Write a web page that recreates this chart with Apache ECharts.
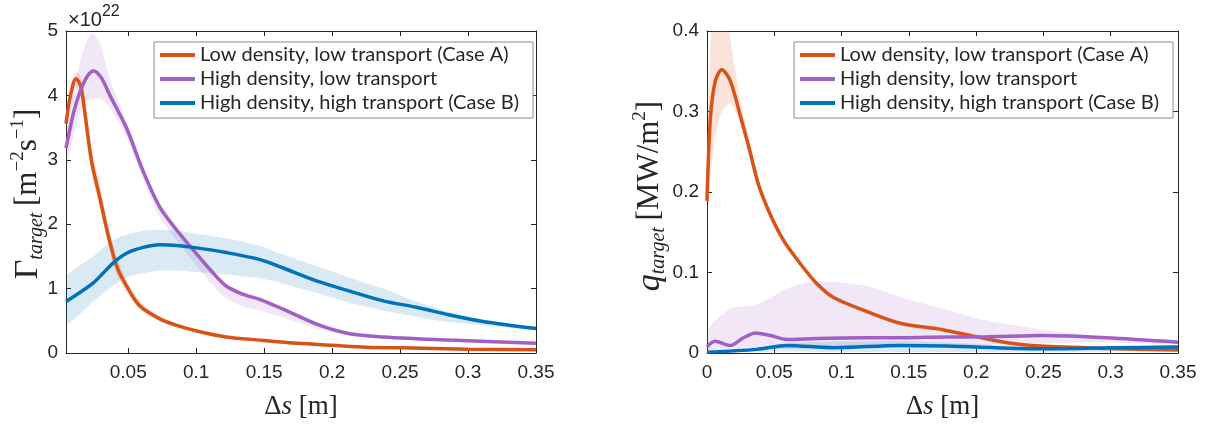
<!DOCTYPE html>
<html><head><meta charset="utf-8">
<script src="https://cdn.jsdelivr.net/npm/echarts@6/dist/echarts.min.js"></script>
<style>html,body{margin:0;padding:0;background:#fff}#c{width:1206px;height:425px}</style>
</head><body><div id="c"></div>
<script>
// ---------- names ----------
const seriesNames = ['Low density, low transport (Case A)', 'High density, low transport', 'High density, high transport (Case B)'];
const colors = ['#D95319', '#A260C4', '#0072BD'];
const bandColors = ['rgba(217,83,25,0.16)', 'rgba(162,96,196,0.15)', 'rgba(0,114,189,0.15)'];

// ---------- left panel: particle flux (x1e22) ----------
const gamA_x = [0.0042, 0.0075, 0.0115, 0.015, 0.018, 0.023, 0.029, 0.035, 0.0415, 0.0488, 0.0586, 0.0733, 0.0856, 0.1027, 0.122, 0.147, 0.175, 0.2, 0.225, 0.25, 0.3, 0.35];
const gamA_y = [3.56, 4.0, 4.26, 4.15, 3.74, 2.98, 2.42, 1.85, 1.35, 1.04, 0.73, 0.53, 0.43, 0.33, 0.25, 0.2, 0.15, 0.12, 0.09, 0.08, 0.06, 0.05];
const gamA_hi = [3.66, 4.12, 4.36, 4.3, 3.95, 3.2, 2.62, 2.02, 1.5, 1.14, 0.8, 0.57, 0.46, 0.35, 0.27, 0.21, 0.16, 0.13, 0.1, 0.085, 0.065, 0.055];
const gamA_lo = [3.46, 3.9, 4.15, 4.0, 3.55, 2.8, 2.25, 1.7, 1.22, 0.95, 0.67, 0.49, 0.4, 0.31, 0.23, 0.19, 0.14, 0.11, 0.08, 0.075, 0.055, 0.045];

const gamH_x = [0.0042, 0.01, 0.015, 0.02, 0.0243, 0.03, 0.0365, 0.0488, 0.061, 0.0733, 0.0856, 0.0978, 0.11, 0.122, 0.1346, 0.147, 0.164, 0.1885, 0.213, 0.2375, 0.2865, 0.35];
const gamH_y = [3.18, 3.75, 4.08, 4.3, 4.38, 4.28, 4.0, 3.49, 2.82, 2.26, 1.91, 1.6, 1.30, 1.04, 0.91, 0.83, 0.68, 0.45, 0.30, 0.25, 0.20, 0.15];
const gamH_hi = [3.4, 4.1, 4.55, 4.88, 4.96, 4.75, 4.25, 3.6, 2.9, 2.32, 1.96, 1.65, 1.35, 1.08, 0.95, 0.87, 0.71, 0.48, 0.32, 0.27, 0.21, 0.16];
const gamH_lo = [2.85, 3.4, 3.75, 3.92, 3.95, 3.95, 3.8, 3.35, 2.7, 2.1, 1.75, 1.42, 1.1, 0.85, 0.72, 0.66, 0.55, 0.38, 0.27, 0.23, 0.18, 0.13];

const gamB_x = [0.0042, 0.0243, 0.039, 0.0488, 0.061, 0.0733, 0.0856, 0.0978, 0.122, 0.147, 0.164, 0.1885, 0.213, 0.2375, 0.262, 0.2865, 0.311, 0.35];
const gamB_y = [0.80, 1.09, 1.40, 1.55, 1.64, 1.68, 1.67, 1.64, 1.56, 1.45, 1.32, 1.12, 0.96, 0.81, 0.71, 0.59, 0.49, 0.38];
const gamB_hi = [1.17, 1.5, 1.75, 1.84, 1.9, 1.91, 1.9, 1.86, 1.78, 1.66, 1.53, 1.35, 1.17, 1.0, 0.8, 0.64, 0.52, 0.39];
const gamB_lo = [0.46, 0.8, 1.05, 1.18, 1.24, 1.28, 1.28, 1.26, 1.22, 1.16, 1.08, 0.93, 0.78, 0.66, 0.56, 0.48, 0.43, 0.36];

// ---------- right panel: heat flux (MW/m^2) ----------
const qA_x = [0, 0.0025, 0.0062, 0.011, 0.0173, 0.0247, 0.032, 0.0383, 0.047, 0.057, 0.0693, 0.0817, 0.094, 0.119, 0.1436, 0.175, 0.198, 0.223, 0.248, 0.297, 0.35];
const qA_y = [0.189, 0.291, 0.338, 0.352, 0.338, 0.295, 0.25, 0.209, 0.172, 0.1395, 0.111, 0.086, 0.069, 0.0515, 0.037, 0.029, 0.021, 0.0127, 0.0086, 0.0057, 0.0037];
const qA_hi = [0.23, 0.38, 0.44, 0.46, 0.39, 0.315, 0.262, 0.217, 0.178, 0.144, 0.114, 0.089, 0.071, 0.053, 0.038, 0.03, 0.022, 0.0135, 0.009, 0.006, 0.004];
const qA_lo = [0.155, 0.22, 0.27, 0.3, 0.31, 0.285, 0.24, 0.202, 0.167, 0.135, 0.108, 0.083, 0.067, 0.05, 0.036, 0.028, 0.02, 0.012, 0.008, 0.0054, 0.0034];

const qH_x = [0, 0.006, 0.0173, 0.027, 0.036, 0.047, 0.0594, 0.0817, 0.119, 0.15, 0.178, 0.2, 0.25, 0.297, 0.35];
const qH_y = [0.0077, 0.0147, 0.0094, 0.0188, 0.025, 0.0217, 0.0168, 0.018, 0.0188, 0.019, 0.02, 0.02, 0.0217, 0.019, 0.0135];
const qH_hi = [0.027, 0.04, 0.055, 0.058, 0.06, 0.068, 0.08, 0.089, 0.083, 0.066, 0.054, 0.043, 0.029, 0.02, 0.016];
const qH_lo = [0.002, 0.003, 0.003, 0.004, 0.005, 0.005, 0.005, 0.006, 0.007, 0.008, 0.009, 0.01, 0.012, 0.013, 0.011];

const qB_x = [0, 0.037, 0.0594, 0.094, 0.1436, 0.178, 0.248, 0.3, 0.35];
const qB_y = [0.001, 0.0045, 0.0094, 0.0065, 0.0094, 0.0086, 0.0053, 0.0065, 0.0075];
const qB_hi = [0.002, 0.006, 0.012, 0.014, 0.015, 0.013, 0.008, 0.008, 0.009];
const qB_lo = [0, 0.001, 0.002, 0.001, 0.001, 0.001, 0.001, 0.002, 0.003];

// ---------- tick labels ----------
const leftXTicks = [0.05, 0.1, 0.15, 0.2, 0.25, 0.3, 0.35];
const rightXTicks = [0, 0.05, 0.1, 0.15, 0.2, 0.25, 0.3, 0.35];

// ---------- helpers ----------
const zip = (xs, ys) => xs.map((x, i) => [x, ys[i]]);
const AX = '#262626';
const tickFont = {color: AX, fontFamily: 'Liberation Sans, Arial, sans-serif', fontSize: 19};

function bandSeries(xs, lo, hi, idx, xi, yi) {
  return {
    type: 'custom', xAxisIndex: xi, yAxisIndex: yi, silent: true, z: 1, clip: true,
    data: xs.map((x, i) => [x, lo[i], hi[i]]),
    encode: {x: 0, y: [1, 2]},
    renderItem: function (params, api) {
      if (params.dataIndex !== 0) return null;
      const up = xs.map((x, i) => api.coord([x, hi[i]]));
      const dn = xs.map((x, i) => api.coord([x, lo[i]])).reverse();
      return {type: 'polygon', shape: {points: up.concat(dn), smooth: 0.25},
              style: {fill: bandColors[idx], stroke: null}};
    }
  };
}
function lineSeries(xs, ys, idx, xi, yi) {
  return {type: 'line', name: seriesNames[idx], xAxisIndex: xi, yAxisIndex: yi, data: zip(xs, ys),
    symbol: 'none', smooth: 0.3, lineStyle: {width: 3.5, color: colors[idx]},
    itemStyle: {color: colors[idx]}, z: 3 + idx};
}
function xAx(grid, min, ticks, pos, show) {
  return {type: 'value', gridIndex: grid, min: min, max: 0.35, position: pos,
    axisLine: {show: true, onZero: false, lineStyle: {color: AX, width: 1}},
    axisTick: {show: true, inside: true, length: 5, customValues: ticks, lineStyle: {color: AX}},
    axisLabel: {show: show, customValues: ticks, margin: 10, ...tickFont},
    splitLine: {show: false}};
}
function yAx(grid, max, interval, pos, show) {
  return {type: 'value', gridIndex: grid, min: 0, max: max, interval: interval, position: pos,
    axisLine: {show: true, onZero: false, lineStyle: {color: AX, width: 1}},
    axisTick: {show: true, inside: true, length: 5, lineStyle: {color: AX}},
    axisLabel: {show: show, margin: 8, ...tickFont},
    splitLine: {show: false}};
}
const serif = 'Liberation Serif, DejaVu Serif, serif';
const xName = {
  name: '{a|Δ}{i|s}  {a|[m]}', nameLocation: 'middle', nameGap: 40,
  nameTextStyle: {rich: {a: {fontFamily: serif, fontSize: 27, color: AX}, i: {fontFamily: serif, fontStyle: 'italic', fontSize: 27, color: AX}}}
};
const legendCommon = {
  orient: 'vertical', data: seriesNames.map(n => ({name: n, icon: 'rect'})),
  itemWidth: 35, itemHeight: 4, itemGap: 4,
  backgroundColor: '#fff', borderColor: '#8c8c8c', borderWidth: 1, borderRadius: 0,
  padding: [3, 14, 5, 6],
  textStyle: {fontFamily: 'Lato, sans-serif', fontSize: 20, color: AX, lineHeight: 20}
};
const titleRich = {
  g: {fontFamily: serif, fontSize: 34, fill: AX, lineHeight: 38, verticalAlign: 'middle'},
  q: {fontFamily: serif, fontStyle: 'italic', fontSize: 34, fill: AX, lineHeight: 38, verticalAlign: 'middle'},
  sub: {fontFamily: serif, fontStyle: 'italic', fontSize: 20, fill: AX, lineHeight: 20, verticalAlign: 'bottom'},
  a: {fontFamily: serif, fontSize: 31, fill: AX, lineHeight: 38, verticalAlign: 'middle'},
  sup: {fontFamily: serif, fontSize: 19, fill: AX, lineHeight: 19, verticalAlign: 'top'}
};

const chart = echarts.init(document.getElementById('c'), null, {renderer: 'canvas'});
const option = {
  animation: false,
  backgroundColor: '#fff',
  grid: [
    {left: 66, right: 670, top: 31, bottom: 68},
    {left: 707, right: 28, top: 31, bottom: 68}
  ],
  xAxis: [
    Object.assign(xAx(0, 0.0042, leftXTicks, 'bottom', true), xName),
    xAx(0, 0.0042, leftXTicks, 'top', false),
    Object.assign(xAx(1, 0, rightXTicks, 'bottom', true), xName),
    xAx(1, 0, rightXTicks, 'top', false)
  ],
  yAxis: [
    yAx(0, 5, 1, 'left', true),
    yAx(0, 5, 1, 'right', false),
    yAx(1, 0.4, 0.1, 'left', true),
    yAx(1, 0.4, 0.1, 'right', false)
  ],
  legend: [
    Object.assign({left: 154, top: 42}, legendCommon),
    Object.assign({left: 794, top: 42}, legendCommon)
  ],
  graphic: [
    {type: 'text', left: 68, top: 4, style: {text: '{a|×10}{s|22}',
      rich: {a: {fontFamily: 'Liberation Sans, sans-serif', fontSize: 20, fill: AX, verticalAlign: 'bottom', lineHeight: 26},
             s: {fontFamily: 'Liberation Sans, sans-serif', fontSize: 16, fill: AX, verticalAlign: 'top', lineHeight: 16}}}},
    {type: 'text', x: 28, y: 194, rotation: Math.PI / 2, style: {
      text: '{g|Γ}{sub|target}  {a|[m}{sup|−2}{a|s}{sup|−1}{a|]}', align: 'center', verticalAlign: 'middle', rich: titleRich}},
    {type: 'text', x: 650, y: 196, rotation: Math.PI / 2, style: {
      text: '{q|q}{sub|target}  {a|[MW/m}{sup|2}{a|]}', align: 'center', verticalAlign: 'middle', rich: titleRich}}
  ],
  series: [
    bandSeries(gamA_x, gamA_lo, gamA_hi, 0, 0, 0),
    bandSeries(gamH_x, gamH_lo, gamH_hi, 1, 0, 0),
    bandSeries(gamB_x, gamB_lo, gamB_hi, 2, 0, 0),
    lineSeries(gamA_x, gamA_y, 0, 0, 0),
    lineSeries(gamH_x, gamH_y, 1, 0, 0),
    lineSeries(gamB_x, gamB_y, 2, 0, 0),
    bandSeries(qA_x, qA_lo, qA_hi, 0, 2, 2),
    bandSeries(qH_x, qH_lo, qH_hi, 1, 2, 2),
    bandSeries(qB_x, qB_lo, qB_hi, 2, 2, 2),
    lineSeries(qA_x, qA_y, 0, 2, 2),
    lineSeries(qH_x, qH_y, 1, 2, 2),
    lineSeries(qB_x, qB_y, 2, 2, 2)
  ]
};
chart.setOption(option);
</script>
</body></html>
